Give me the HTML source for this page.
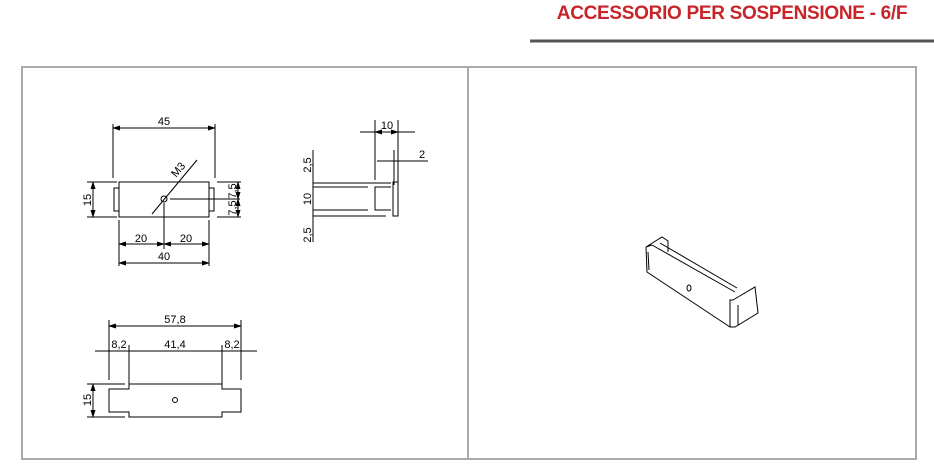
<!DOCTYPE html>
<html><head><meta charset="utf-8"><style>
body{margin:0;background:#fff;width:934px;height:475px;overflow:hidden;position:relative;font-family:"Liberation Sans",sans-serif}
.t{position:absolute;left:530px;width:404px;top:3px;text-align:center;color:#c8252a;font-weight:bold;font-size:19px;letter-spacing:-0.3px}
</style></head><body>
<div class="t">ACCESSORIO PER SOSPENSIONE - 6/F</div>
<svg width="934" height="475" style="position:absolute;left:0;top:0" font-family="Liberation Sans, sans-serif" font-size="11">
<defs><marker id="a" markerWidth="8" markerHeight="6" refX="7" refY="3" orient="auto-start-reverse"><path d="M0,0.5L8,3L0,5.5z" fill="#000"/></marker></defs>
<line x1="530" y1="41" x2="934" y2="41" stroke="#555" stroke-width="3"/>
<rect x="22" y="67" width="894" height="392" fill="none" stroke="#aaa" stroke-width="2"/>
<line x1="468" y1="67" x2="468" y2="459" stroke="#aaa" stroke-width="2"/>
<g stroke="#000" stroke-width="1" fill="none">
<!-- top view -->
<rect x="119" y="182" width="90" height="35"/>
<path d="M119,188H114V211H119M209,188H214V211H209"/>
<line x1="113" y1="124" x2="113" y2="178"/><line x1="215" y1="124" x2="215" y2="178"/>
<line x1="113" y1="128" x2="215" y2="128" marker-start="url(#a)" marker-end="url(#a)"/>
<line x1="87" y1="182" x2="117" y2="182"/><line x1="87" y1="217" x2="117" y2="217"/>
<line x1="93" y1="182" x2="93" y2="217" marker-start="url(#a)" marker-end="url(#a)"/>
<line x1="217" y1="182" x2="241" y2="182"/><line x1="217" y1="217" x2="241" y2="217"/>
<line x1="170" y1="199" x2="240" y2="199"/>
<line x1="238" y1="182" x2="238" y2="199" marker-start="url(#a)" marker-end="url(#a)"/>
<line x1="238" y1="199" x2="238" y2="217" marker-start="url(#a)" marker-end="url(#a)"/>
<line x1="152" y1="214" x2="197" y2="160"/>
<circle cx="164" cy="199" r="3"/>
<line x1="164" y1="203" x2="164" y2="249"/>
<line x1="119" y1="220" x2="119" y2="266"/><line x1="209" y1="220" x2="209" y2="266"/>
<line x1="119" y1="244" x2="164" y2="244" marker-start="url(#a)" marker-end="url(#a)"/>
<line x1="164" y1="244" x2="209" y2="244" marker-start="url(#a)" marker-end="url(#a)"/>
<line x1="119" y1="263" x2="209" y2="263" marker-start="url(#a)" marker-end="url(#a)"/>
<!-- side view -->
<line x1="360" y1="132" x2="415" y2="132"/>
<line x1="375" y1="132" x2="398" y2="132" marker-start="url(#a)" marker-end="url(#a)"/>
<line x1="375" y1="120" x2="375" y2="180"/><line x1="398" y1="120" x2="398" y2="185"/>
<line x1="394" y1="150" x2="394" y2="185"/>
<line x1="377" y1="161" x2="428" y2="161"/>
<line x1="313" y1="183" x2="391" y2="183"/><line x1="313" y1="187" x2="368" y2="187"/>
<line x1="313" y1="210" x2="368" y2="210"/><line x1="313" y1="216" x2="386" y2="216"/>
<path d="M391,187H375V210H391"/>
<rect x="393" y="182" width="5" height="34"/>
<line x1="313" y1="150" x2="313" y2="242"/>
<!-- bottom view -->
<line x1="109" y1="320" x2="109" y2="380"/><line x1="241" y1="320" x2="241" y2="380"/>
<line x1="129" y1="345" x2="129" y2="384"/><line x1="222" y1="345" x2="222" y2="384"/>
<line x1="109" y1="326" x2="241" y2="326" marker-start="url(#a)" marker-end="url(#a)"/>
<line x1="95" y1="351" x2="257" y2="351"/>
<path d="M109,389H129V384H222V389H241V412H222V417H129V412H109Z"/>
<circle cx="175" cy="400" r="2.5"/>
<line x1="87" y1="384" x2="125" y2="384"/><line x1="87" y1="417" x2="125" y2="417"/>
<line x1="93" y1="384" x2="93" y2="417" marker-start="url(#a)" marker-end="url(#a)"/>
<!-- iso -->
<path d="M646,247L662,237L668,241L668,252M652,245L735,292M660,243L737,288M646,247L647,272L730,327M646,247L652,245M648,252L649,270"/>
<path d="M733,300L755,287L758,313L735,327L730,327L730,300Z"/>
<line x1="738" y1="305" x2="738" y2="325"/>
<ellipse cx="689" cy="288" rx="2" ry="3"/>
</g>
<g font-size="11">
<text x="164" y="125" text-anchor="middle">45</text>
<text x="141" y="242" text-anchor="middle">20</text><text x="186" y="242" text-anchor="middle">20</text>
<text x="164" y="260" text-anchor="middle">40</text>
<text transform="translate(91,200) rotate(-90)" text-anchor="middle">15</text>
<text transform="translate(236,191) rotate(-90)" text-anchor="middle">7,5</text>
<text transform="translate(236,208) rotate(-90)" text-anchor="middle">7,5</text>
<text transform="translate(181,172) rotate(-50)" text-anchor="middle">M3</text>
<text x="387" y="129" text-anchor="middle">10</text>
<text x="422" y="158" text-anchor="middle">2</text>
<text transform="translate(311,165) rotate(-90)" text-anchor="middle">2,5</text>
<text transform="translate(311,199) rotate(-90)" text-anchor="middle">10</text>
<text transform="translate(311,235) rotate(-90)" text-anchor="middle">2,5</text>
<text x="175" y="323" text-anchor="middle">57,8</text>
<text x="119" y="348" text-anchor="middle">8,2</text>
<text x="175" y="348" text-anchor="middle">41,4</text>
<text x="232" y="348" text-anchor="middle">8,2</text>
<text transform="translate(91,400) rotate(-90)" text-anchor="middle">15</text>
</g>
</svg>
</body></html>
